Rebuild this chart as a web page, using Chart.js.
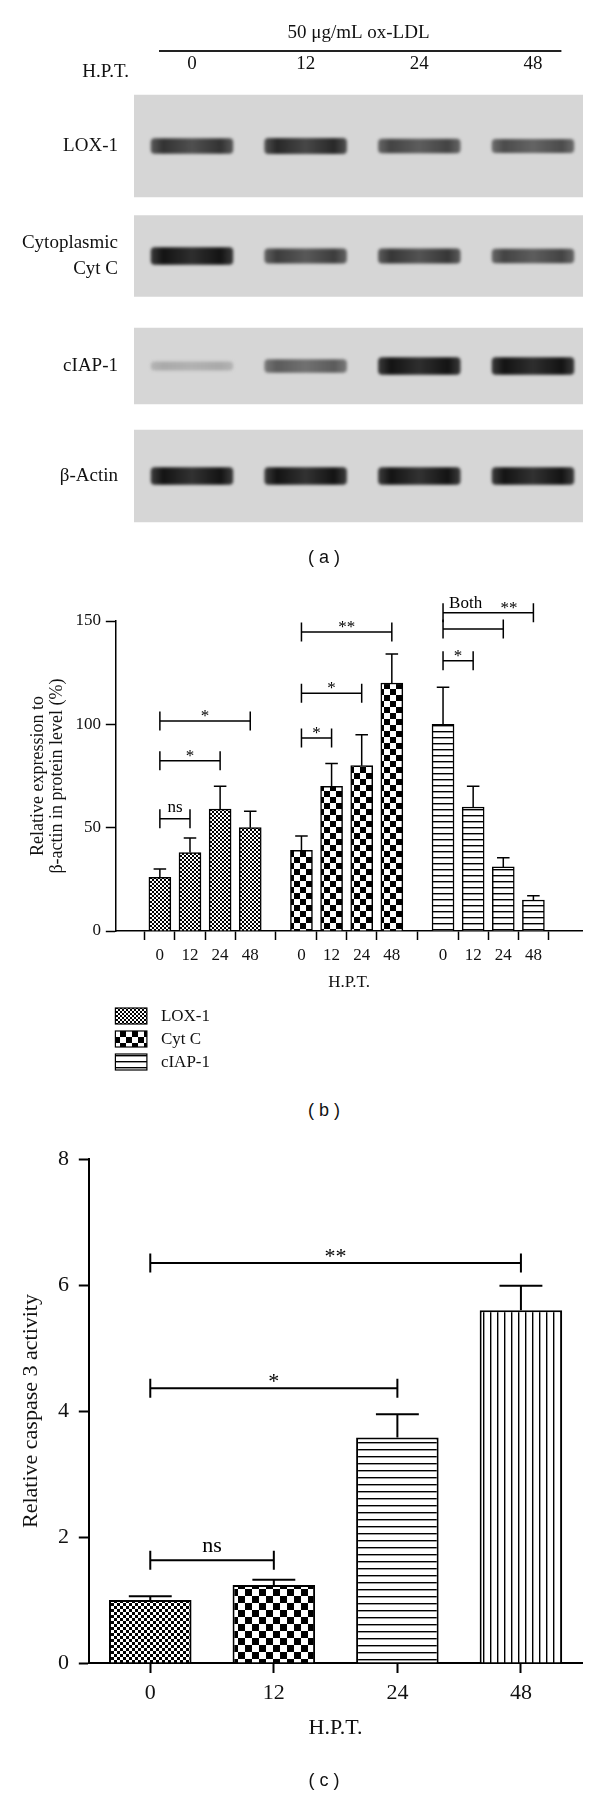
<!DOCTYPE html>
<html>
<head>
<meta charset="utf-8">
<script src="https://cdn.jsdelivr.net/npm/chart.js@4.4.0/dist/chart.umd.min.js"></script>
<style>
  body { margin: 0; background: #fff; }
  #page { position: relative; width: 600px; height: 1795px; overflow: hidden; }
  canvas { position: absolute; left: 0; }
  .cap { position: absolute; left: 324px; transform: translateX(-50%); font: 18px "Liberation Sans", Arial, sans-serif; line-height: 20px; color: #111; white-space: pre; }
</style>
</head>
<body>
<div id="page">
  <canvas id="blot" width="600" height="575" style="top:0"></canvas>
  <canvas id="expr" width="600" height="510" style="top:575px"></canvas>
  <canvas id="casp" width="600" height="675" style="top:1120px"></canvas>
  <div class="cap" style="top:547px">( a )</div>
  <div class="cap" style="top:1100px">( b )</div>
  <div class="cap" style="top:1770px">( c )</div>
</div>
<script>
// (a) western blot, band darkness 0..1 per lane
var lanes = ['0', '12', '24', '48'];
var blotRows = ['LOX-1', ['Cytoplasmic', 'Cyt C'], 'cIAP-1', 'β-Actin'];
var bandLox = [0.8, 0.85, 0.72, 0.68];
var bandCytc = [1.0, 0.75, 0.78, 0.72];
var bandCiap = [0.22, 0.6, 1.0, 1.0];
var bandActin = [0.98, 0.98, 0.98, 0.98];

// (b) relative expression to beta-actin (%)
var hpt = ['0', '12', '24', '48'];
var loxMean = [26, 38, 59, 50];
var loxErr = [4, 7, 11, 8];
var cytcMean = [39, 70, 80, 120];
var cytcErr = [7, 11, 15, 14];
var ciapMean = [100, 60, 31, 15];
var ciapErr = [18, 10, 4.5, 2];
var exprSig = [
  { set: 0, from: 0, to: 1, y: 54.3, text: 'ns' },
  { set: 0, from: 0, to: 2, y: 82.4, text: '*' },
  { set: 0, from: 0, to: 3, y: 101.6, text: '*' },
  { set: 1, from: 0, to: 1, y: 93.4, text: '*' },
  { set: 1, from: 0, to: 2, y: 115.1, text: '*' },
  { set: 1, from: 0, to: 3, y: 144.7, text: '**' },
  { set: 2, from: 0, to: 1, y: 130.8, text: '*' },
  { set: 2, from: 0, to: 2, y: 146.1, text: '' },
  { set: 2, from: 0, to: 3, y: 154, text: '**', note: 'Both' }
];

// (c) relative caspase 3 activity
var caspMean = [1.0, 1.24, 3.58, 5.6];
var caspErr = [0.06, 0.08, 0.37, 0.39];
var caspSig = [
  { from: 0, to: 1, y: 1.63, text: 'ns' },
  { from: 0, to: 2, y: 4.36, text: '*' },
  { from: 0, to: 3, y: 6.35, text: '**' }
];

var SERIF = '"Liberation Serif", "Times New Roman", serif';

function checker(cell) {
  var c = document.createElement('canvas');
  c.width = c.height = cell * 2;
  var g = c.getContext('2d');
  g.fillStyle = '#fff'; g.fillRect(0, 0, cell * 2, cell * 2);
  g.fillStyle = '#000'; g.fillRect(0, 0, cell, cell); g.fillRect(cell, cell, cell, cell);
  return g.createPattern(c, 'repeat');
}
function stripes(gap, lw, vertical) {
  var c = document.createElement('canvas');
  c.width = c.height = gap;
  var g = c.getContext('2d');
  g.fillStyle = '#fff'; g.fillRect(0, 0, gap, gap);
  g.fillStyle = '#000';
  if (vertical) g.fillRect(0, 0, lw, gap); else g.fillRect(0, 0, gap, lw);
  return g.createPattern(c, 'repeat');
}

var whiskers = {
  id: 'whiskers',
  afterDatasetsDraw: function (chart, args, opts) {
    var ctx = chart.ctx, ys = chart.scales.y;
    ctx.save();
    ctx.strokeStyle = '#000';
    ctx.lineWidth = opts.width;
    chart.data.datasets.forEach(function (ds, i) {
      if (!ds.errors) return;
      chart.getDatasetMeta(i).data.forEach(function (bar, j) {
        var d = ds.data[j];
        var v = typeof d === 'object' ? d.y : d;
        var tip = ys.getPixelForValue(v + ds.errors[j]);
        var half = bar.width * opts.cap / 2;
        ctx.beginPath();
        ctx.moveTo(bar.x, bar.y); ctx.lineTo(bar.x, tip);
        ctx.moveTo(bar.x - half, tip); ctx.lineTo(bar.x + half, tip);
        ctx.stroke();
      });
    });
    ctx.restore();
  }
};

var brackets = {
  id: 'brackets',
  afterDraw: function (chart, args, opts) {
    var ctx = chart.ctx, ys = chart.scales.y;
    ctx.save();
    ctx.strokeStyle = '#000'; ctx.fillStyle = '#000';
    ctx.lineWidth = opts.width;
    ctx.font = opts.size + 'px ' + SERIF;
    ctx.textAlign = 'center'; ctx.textBaseline = 'alphabetic';
    opts.items.forEach(function (b) {
      var bars = chart.getDatasetMeta(b.set || 0).data;
      var x1 = bars[b.from].x, x2 = bars[b.to].x, y = ys.getPixelForValue(b.y);
      ctx.beginPath();
      ctx.moveTo(x1, y - opts.half); ctx.lineTo(x1, y + opts.half);
      ctx.moveTo(x1, y); ctx.lineTo(x2, y);
      ctx.moveTo(x2, y - opts.half); ctx.lineTo(x2, y + opts.half);
      ctx.stroke();
      var stars = /^\*+$/.test(b.text);
      var at = b.note ? 0.73 : 0.5;
      if (b.text) ctx.fillText(b.text, x1 + (x2 - x1) * at, stars ? y : y - 0.4 * opts.size);
      if (b.note) ctx.fillText(b.note, x1 + (x2 - x1) * 0.25, y - 0.3 * opts.size);
    });
    ctx.restore();
  }
};

// ---------- (a) blot ----------
var bandSets = [bandLox, bandCytc, bandCiap, bandActin];
var panelH = [102, 81, 76, 92];
var laneMin = -0.51, laneMax = 3.44;

function onlyRow(r, v) {
  return blotRows.map(function (_, k) { return k === r ? v : null; });
}
function grey(i) {
  var g = Math.round(214 - 195 * Math.min(1, i));
  return 'rgb(' + g + ',' + g + ',' + g + ')';
}
// bands are a bit darker at both ends, like the scanned blot
function bandFill(l, inten) {
  return function (c) {
    var xs = c.chart.scales.x;
    var x0 = xs ? xs.getPixelForValue(l - 0.36) : NaN;
    var x1 = xs ? xs.getPixelForValue(l + 0.36) : NaN;
    if (!isFinite(x0) || !isFinite(x1) || x0 === x1) return grey(inten);
    var g = c.chart.ctx.createLinearGradient(x0, 0, x1, 0);
    g.addColorStop(0, grey(inten * 0.8));
    g.addColorStop(0.15, grey(inten * 1.05));
    g.addColorStop(0.5, grey(inten * 0.86));
    g.addColorStop(0.85, grey(inten * 1.05));
    g.addColorStop(1, grey(inten * 0.8));
    return g;
  };
}

var blotSets = [];
bandSets.forEach(function (row, r) {
  row.forEach(function (inten, l) {
    blotSets.push({
      data: onlyRow(r, [l - 0.36, l + 0.36]),
      backgroundColor: bandFill(l, inten),
      barThickness: 6 + 11 * inten,
      borderRadius: 4, borderSkipped: false,
      grouped: false, order: 1, blur: true
    });
  });
});
bandSets.forEach(function (row, r) {
  blotSets.push({
    data: onlyRow(r, [laneMin, laneMax]),
    backgroundColor: '#d6d6d6',
    barThickness: panelH[r],
    grouped: false, order: 2
  });
});

var smudge = {
  id: 'smudge',
  beforeDatasetDraw: function (chart, args) {
    if (!chart.data.datasets[args.index].blur) return;
    chart.ctx.save();
    chart.ctx.filter = 'blur(1.6px)';
  },
  afterDatasetDraw: function (chart, args) {
    if (chart.data.datasets[args.index].blur) chart.ctx.restore();
  }
};

var blotHeader = {
  id: 'blotHeader',
  afterDraw: function (chart) {
    var ctx = chart.ctx, xs = chart.scales.x;
    ctx.save();
    ctx.strokeStyle = '#222'; ctx.lineWidth = 2;
    ctx.beginPath();
    ctx.moveTo(xs.getPixelForValue(-0.29), 51);
    ctx.lineTo(xs.getPixelForValue(3.25), 51);
    ctx.stroke();
    ctx.fillStyle = '#111';
    ctx.font = '19px ' + SERIF;
    ctx.textAlign = 'right'; ctx.textBaseline = 'middle';
    ctx.fillText('H.P.T.', xs.left - 5, 72);
    ctx.restore();
  }
};

new Chart(document.getElementById('blot'), {
  type: 'bar',
  data: { labels: blotRows, datasets: blotSets },
  options: {
    indexAxis: 'y',
    responsive: false, animation: false, events: [],
    layout: { padding: { top: 0, right: 17, bottom: 44, left: 0 } },
    plugins: { legend: { display: false }, tooltip: { enabled: false } },
    scales: {
      x: {
        type: 'linear', position: 'top', min: laneMin, max: laneMax,
        afterBuildTicks: function (s) { s.ticks = lanes.map(function (_, i) { return { value: i }; }); },
        afterFit: function (s) { s.height = 91; },
        ticks: { callback: function (v, i) { return lanes[i]; }, font: { family: SERIF, size: 19 }, color: '#111', padding: 7.6, autoSkip: false, maxRotation: 0 },
        grid: { display: false }, border: { display: false },
        title: { display: true, text: '50 μg/mL ox-LDL', font: { family: SERIF, size: 19 }, color: '#111', padding: { top: 21.6, bottom: 0 } }
      },
      y: {
        afterFit: function (s) { s.width = 134; },
        ticks: { font: { family: SERIF, size: 19, lineHeight: 1.4 }, color: '#111', padding: 8 },
        grid: { display: false }, border: { display: false }
      }
    }
  },
  plugins: [smudge, blotHeader]
});

// ---------- (b) expression ----------
var groupGap = 4.7;
function placed(vals, g) {
  return vals.map(function (v, i) { return { x: g * groupGap + i, y: v }; });
}
var exprTicks = [];
[0, 1, 2].forEach(function (g) {
  hpt.forEach(function (_, i) { exprTicks.push({ value: g * groupGap + i }); });
});

var stackLegend = {
  id: 'stackLegend',
  afterDraw: function (chart, args, opts) {
    var ctx = chart.ctx, a = chart.chartArea;
    ctx.save();
    ctx.font = opts.size + 'px ' + SERIF;
    ctx.textAlign = 'left'; ctx.textBaseline = 'middle';
    chart.data.datasets.forEach(function (ds, i) {
      var y = a.bottom + opts.top + i * opts.step;
      ctx.fillStyle = ds.backgroundColor;
      ctx.fillRect(a.left, y, opts.boxW, opts.boxH);
      ctx.strokeStyle = '#000'; ctx.lineWidth = 1.2;
      ctx.strokeRect(a.left, y, opts.boxW, opts.boxH);
      ctx.fillStyle = '#111';
      ctx.fillText(ds.label, a.left + opts.boxW + 14, y + opts.boxH / 2 + 1);
    });
    ctx.restore();
  }
};

var exprFont = { family: SERIF, size: 17 };
function exprSet(label, vals, errs, g, fill) {
  return {
    label: label, data: placed(vals, g), errors: errs,
    backgroundColor: fill, borderColor: '#000', borderWidth: 1.5,
    barThickness: 22, grouped: false
  };
}

new Chart(document.getElementById('expr'), {
  type: 'bar',
  data: {
    datasets: [
      exprSet('LOX-1', loxMean, loxErr, 0, checker(2)),
      exprSet('Cyt C', cytcMean, cytcErr, 1, checker(6)),
      exprSet('cIAP-1', ciapMean, ciapErr, 2, stripes(6, 1.4, false))
    ]
  },
  options: {
    responsive: false, animation: false, events: [],
    layout: { padding: { top: 46, right: 17.3, bottom: 84, left: 0 } },
    plugins: {
      legend: { display: false }, tooltip: { enabled: false },
      whiskers: { cap: 0.57, width: 1.5 },
      brackets: { items: exprSig, size: 17, half: 9.5, width: 1.5 },
      stackLegend: { top: 77, step: 23, boxW: 31.5, boxH: 16, size: 17 }
    },
    scales: {
      x: {
        type: 'linear', min: -0.83, max: 13.39,
        afterBuildTicks: function (s) { s.ticks = exprTicks.map(function (t) { return { value: t.value }; }); },
        afterFit: function (s) { s.height = 70; },
        ticks: { callback: function (v, i) { return hpt[i % 4]; }, font: exprFont, color: '#111', padding: 5.8, autoSkip: false, maxRotation: 0 },
        grid: { drawOnChartArea: false, tickLength: 9, tickColor: '#000', tickWidth: 1.5 },
        border: { color: '#000', width: 1.5 },
        title: { display: true, text: 'H.P.T.', font: exprFont, color: '#111', padding: { top: 0, bottom: 7.8 } }
      },
      y: {
        min: 0, max: 150,
        afterFit: function (s) { s.width = 115.4; },
        ticks: { stepSize: 50, font: exprFont, color: '#111', padding: 4.8 },
        grid: { drawOnChartArea: false, tickLength: 9.6, tickColor: '#000', tickWidth: 1.5 },
        border: { color: '#000', width: 1.5 },
        title: { display: true, text: ['Relative expression to', 'β-actin in protein level (%)'], font: { family: SERIF, size: 18, lineHeight: 1.05 }, color: '#111', padding: { top: 29, bottom: 0 } }
      }
    }
  },
  plugins: [whiskers, brackets, stackLegend]
});

// ---------- (c) caspase 3 ----------
var caspFont = { family: SERIF, size: 22 };
new Chart(document.getElementById('casp'), {
  type: 'bar',
  data: {
    labels: hpt,
    datasets: [{
      data: caspMean, errors: caspErr,
      backgroundColor: [checker(3), checker(7), stripes(7, 1.4, false), stripes(7, 1.4, true)],
      borderColor: '#000', borderWidth: 2,
      barPercentage: 0.668, categoryPercentage: 1
    }]
  },
  options: {
    responsive: false, animation: false, events: [],
    layout: { padding: { top: 39, right: 17.3, bottom: 47, left: 0 } },
    plugins: {
      legend: { display: false }, tooltip: { enabled: false },
      whiskers: { cap: 0.52, width: 2 },
      brackets: { items: caspSig, size: 22, half: 9.5, width: 2 }
    },
    scales: {
      x: {
        afterFit: function (s) { s.height = 85; },
        ticks: { font: caspFont, color: '#111', padding: 7.1 },
        grid: { offset: false, drawOnChartArea: false, tickLength: 10, tickColor: '#000', tickWidth: 2 },
        border: { color: '#000', width: 2 },
        title: { display: true, text: 'H.P.T.', font: caspFont, color: '#111', padding: { top: 0, bottom: 6.8 } }
      },
      y: {
        min: 0, max: 8,
        afterFit: function (s) { s.width = 88.5; },
        ticks: { stepSize: 2, font: caspFont, color: '#111', padding: 9.8 },
        grid: { drawOnChartArea: false, tickLength: 9.7, tickColor: '#000', tickWidth: 2 },
        border: { color: '#000', width: 2 },
        title: { display: true, text: 'Relative caspase 3 activity', font: caspFont, color: '#111', padding: { top: 17.6, bottom: 0 } }
      }
    }
  },
  plugins: [whiskers, brackets]
});
</script>
</body>
</html>
